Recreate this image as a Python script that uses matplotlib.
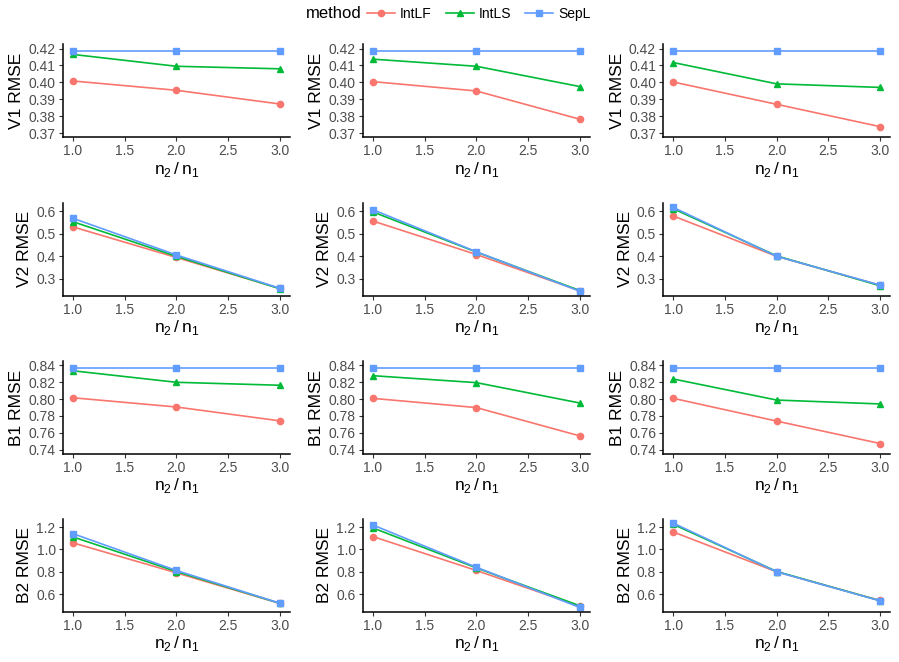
import matplotlib
matplotlib.use("Agg")
import matplotlib.pyplot as plt
from matplotlib.lines import Line2D

plt.rcParams['font.family'] = ['Liberation Sans', 'DejaVu Sans']
plt.rcParams['mathtext.fontset'] = 'custom'
plt.rcParams['mathtext.rm'] = 'Liberation Sans'

# ratio n2/n1
ratio = [1.0, 2.0, 3.0]
methods = ['IntLF', 'IntLS', 'SepL']
row_names = ['V1 RMSE', 'V2 RMSE', 'B1 RMSE', 'B2 RMSE']

# V1 RMSE, columns 1..3
v1_intlf = [[0.4008, 0.3953, 0.3872], [0.4004, 0.3949, 0.3782], [0.4002, 0.3870, 0.3738]]
v1_intls = [[0.4165, 0.4095, 0.4080], [0.4137, 0.4095, 0.3975], [0.4117, 0.3991, 0.3970]]
v1_sepl = [[0.4185, 0.4185, 0.4185], [0.4185, 0.4185, 0.4185], [0.4185, 0.4185, 0.4185]]

# V2 RMSE
v2_intlf = [[0.530, 0.395, 0.258], [0.556, 0.408, 0.248], [0.578, 0.400, 0.272]]
v2_intls = [[0.553, 0.400, 0.257], [0.596, 0.419, 0.249], [0.610, 0.402, 0.270]]
v2_sepl = [[0.568, 0.406, 0.259], [0.606, 0.420, 0.246], [0.616, 0.400, 0.273]]

# B1 RMSE
b1_intlf = [[0.8015, 0.7906, 0.7742], [0.8008, 0.7899, 0.7564], [0.8008, 0.7739, 0.7474]]
b1_intls = [[0.8334, 0.8198, 0.8163], [0.8276, 0.8194, 0.7953], [0.8237, 0.7988, 0.7942]]
b1_sepl = [[0.8365, 0.8365, 0.8365], [0.8365, 0.8365, 0.8365], [0.8365, 0.8365, 0.8365]]

# B2 RMSE
b2_intlf = [[1.059, 0.791, 0.518], [1.115, 0.812, 0.494], [1.156, 0.800, 0.544]]
b2_intls = [[1.112, 0.803, 0.519], [1.192, 0.835, 0.497], [1.224, 0.803, 0.542]]
b2_sepl = [[1.141, 0.812, 0.520], [1.218, 0.841, 0.482], [1.235, 0.800, 0.541]]

data = [
    (v1_intlf, v1_intls, v1_sepl),
    (v2_intlf, v2_intls, v2_sepl),
    (b1_intlf, b1_intls, b1_sepl),
    (b2_intlf, b2_intls, b2_sepl),
]

colors = ['#F8766D', '#00BA38', '#619CFF']
markers = ['o', '^', 's']

ylims = [(0.3675, 0.4225), (0.226, 0.637), (0.735, 0.845), (0.444, 1.275)]
yticks = [[0.37, 0.38, 0.39, 0.40, 0.41, 0.42],
          [0.3, 0.4, 0.5, 0.6],
          [0.74, 0.76, 0.78, 0.80, 0.82, 0.84],
          [0.6, 0.8, 1.0, 1.2]]
yfmt = ['%.2f', '%.1f', '%.2f', '%.1f']

fig = plt.figure(figsize=(8.99, 6.62), dpi=100)

lefts = [0.0697, 0.4034, 0.7375]
bottoms = [0.7926, 0.5533, 0.3142, 0.0760]
w, h = 0.253, 0.1405

for r in range(4):
    for c in range(3):
        ax = fig.add_axes([lefts[c], bottoms[r], w, h])
        for k in range(3):
            ax.plot(ratio, data[r][k][c], color=colors[k], marker=markers[k],
                    lw=1.2, ms=4.5, label=methods[k], clip_on=False)
        ax.set_xlim(0.9, 3.1)
        ax.set_ylim(*ylims[r])
        ax.set_xticks([1.0, 1.5, 2.0, 2.5, 3.0])
        ax.set_xticklabels(['1.0', '1.5', '2.0', '2.5', '3.0'])
        ax.set_yticks(yticks[r])
        ax.set_yticklabels([yfmt[r] % t for t in yticks[r]])
        for s in ['top', 'right']:
            ax.spines[s].set_visible(False)
        for s in ['left', 'bottom']:
            ax.spines[s].set_linewidth(1.1)
            ax.spines[s].set_color('black')
        ax.tick_params(axis='both', labelsize=10, colors='#333333',
                       labelcolor='#4D4D4D', length=3, width=0.8, pad=2)
        ax.set_ylabel(row_names[r], fontsize=12.5, labelpad=3)
        ax.set_xlabel(r'$\mathrm{n}_2\,/\,\mathrm{n}_1$', fontsize=12.5, labelpad=1)

handles = [Line2D([], [], color=colors[k], marker=markers[k], lw=1.2, ms=4.5)
           for k in range(3)]
fig.text(0.340, 0.979, 'method', fontsize=12, ha='left', va='center')
fig.legend(handles, methods, loc='center left', bbox_to_anchor=(0.408, 0.979),
           ncol=3, frameon=False, fontsize=10, handlelength=2.0,
           handletextpad=0.4, columnspacing=1.0, borderpad=0, borderaxespad=0)

fig.savefig('out.png', dpi=100)
